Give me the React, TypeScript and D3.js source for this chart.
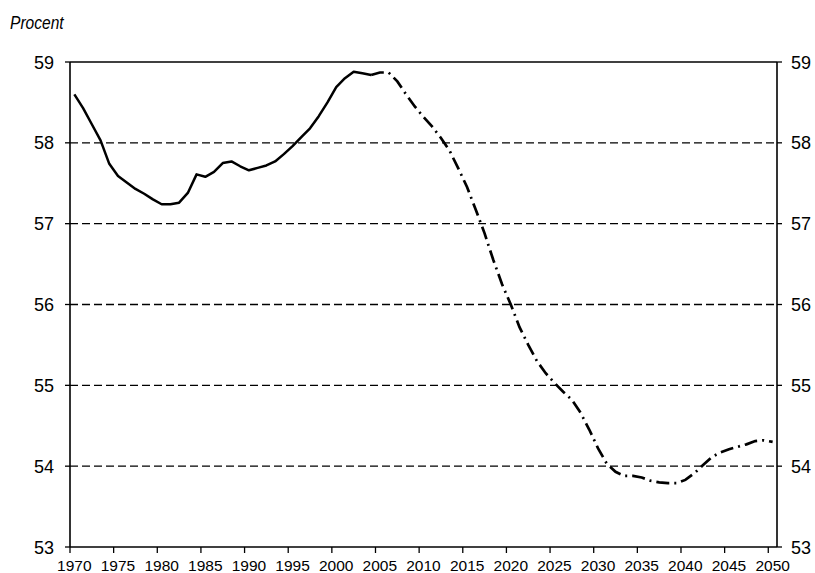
import React from "react";
import * as d3 from "d3";

const years: number[] = d3.range(1970, 2051);
const values: number[] = [
  58.60, 58.43, 58.23, 58.03, 57.74, 57.59, 57.51, 57.43, 57.37, 57.30,
  57.24, 57.24, 57.26, 57.38, 57.61, 57.58, 57.64, 57.75, 57.77, 57.71,
  57.66, 57.69, 57.72, 57.77, 57.86, 57.96, 58.07, 58.18, 58.33, 58.50,
  58.69, 58.80, 58.88, 58.86, 58.84, 58.87, 58.87, 58.76, 58.60, 58.45,
  58.32, 58.20, 58.06, 57.90, 57.68, 57.45, 57.17, 56.88, 56.55, 56.25,
  56.00, 55.72, 55.50, 55.30, 55.15, 55.03, 54.92, 54.82, 54.66, 54.45,
  54.22, 54.03, 53.93, 53.88, 53.88, 53.86, 53.82, 53.80, 53.79, 53.79,
  53.83, 53.91, 54.01, 54.11, 54.17, 54.21, 54.24, 54.27, 54.31, 54.32,
  54.30,
];
const lastHistoricalYear = 2004;
const yTicks: number[] = [53, 54, 55, 56, 57, 58, 59];
const xTickYears: number[] = d3.range(1970, 2051, 5);
const yLabel = "Procent";

export default function App() {
  const W = 815, H = 573;
  const left = 70, right = 777, top = 62, bottom = 547;
  const x = d3.scaleBand<number>().domain(years).range([left, right]).padding(0);
  const y = d3.scaleLinear().domain([53, 59]).range([bottom, top]);
  const cx = (yr: number) => (x(yr) as number) + x.bandwidth() / 2;
  const data = years.map((yr, i) => ({ yr, v: values[i] }));
  const line = d3.line<{ yr: number; v: number }>().x(d => cx(d.yr)).y(d => y(d.v));
  const hist = data.filter(d => d.yr <= lastHistoricalYear);
  const proj = data.filter(d => d.yr >= lastHistoricalYear);
  const font = "'Liberation Sans', Arial, sans-serif";

  return (
    <svg width={W} height={H} style={{ position: "absolute", left: 0, top: 0 }}>
      <rect width={W} height={H} fill="#fff" />
      <text transform="translate(10,29) scale(0.82,1)" fontFamily={font}
        fontStyle="italic" fontSize={19} fill="#000">{yLabel}</text>
      {yTicks.filter(t => t > 53 && t < 59).map(t => (
        <line key={"g" + t} x1={left} x2={right} y1={y(t)} y2={y(t)}
          stroke="#000" strokeWidth={1.3} strokeDasharray="8,4" />
      ))}
      <line x1={left} x2={right} y1={y(59)} y2={y(59)} stroke="#000" strokeWidth={1.3} />
      <line x1={left} x2={right} y1={y(53)} y2={y(53)} stroke="#000" strokeWidth={1.6} />
      <line x1={left} x2={left} y1={top} y2={bottom} stroke="#000" strokeWidth={1.6} />
      <line x1={right} x2={right} y1={top} y2={bottom} stroke="#000" strokeWidth={1.6} />
      {yTicks.map(t => (
        <g key={"yt" + t}>
          <line x1={left - 5} x2={left} y1={y(t)} y2={y(t)} stroke="#000" strokeWidth={1.3} />
          <line x1={right} x2={right + 5} y1={y(t)} y2={y(t)} stroke="#000" strokeWidth={1.3} />
          <text x={54} y={y(t) + 6.5} textAnchor="end" fontFamily={font} fontSize={18} fill="#000">{t}</text>
          <text x={791} y={y(t) + 6.5} textAnchor="start" fontFamily={font} fontSize={18} fill="#000">{t}</text>
        </g>
      ))}
      {xTickYears.map(yr => (
        <g key={"xt" + yr}>
          <line x1={x(yr) as number} x2={x(yr) as number} y1={bottom} y2={bottom + 6} stroke="#000" strokeWidth={1.3} />
          <text x={cx(yr)} y={571} textAnchor="middle" fontFamily={font} fontSize={15.5} fill="#000">{yr}</text>
        </g>
      ))}
      <path d={line(hist) || ""} fill="none" stroke="#000" strokeWidth={2.5} strokeLinejoin="round" />
      <path d={line(proj) || ""} fill="none" stroke="#000" strokeWidth={2.7} strokeDasharray="13,5,2,5" />
    </svg>
  );
}
